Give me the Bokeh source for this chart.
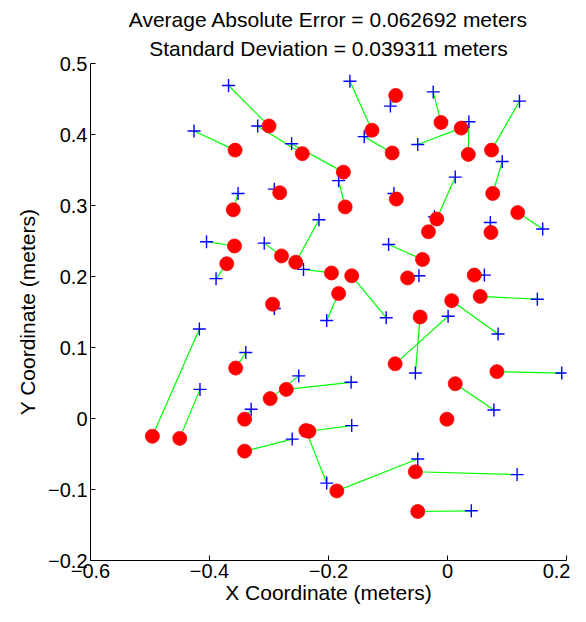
from bokeh.plotting import figure
from bokeh.models import ColumnDataSource, Range1d, Title, FixedTicker
from bokeh.embed import file_html
from bokeh.resources import INLINE

# True (measured) positions - blue plus markers
true_x = [-0.368, -0.426, -0.319, -0.262, -0.164, -0.096, -0.024, 0.036, -0.050, 0.121,
          0.092, 0.160, -0.140, -0.183, -0.090, 0.013, 0.072, -0.352, -0.291, -0.216,
          -0.405, -0.389, -0.308, -0.242, -0.203, -0.291, -0.417, -0.339, -0.250, -0.162,
          -0.416, -0.330, -0.203, -0.161, -0.261, -0.099, -0.103, -0.048, 0.062, 0.151,
          0.085, 0.001, -0.054, 0.192, 0.078, 0.000, 0.117, -0.050, 0.040, -0.022]
true_y = [0.469, 0.405, 0.412, 0.387, 0.475, 0.440, 0.460, 0.418, 0.386, 0.447,
          0.362, 0.267, 0.397, 0.335, 0.317, 0.340, 0.276, 0.317, 0.323, 0.280,
          0.249, 0.197, 0.247, 0.210, 0.138, 0.155, 0.126, 0.093, 0.060, 0.051,
          0.041, 0.013, -0.091, -0.010, -0.029, 0.245, 0.142, 0.201, 0.202, 0.168,
          0.119, 0.144, 0.064, 0.064, 0.012, 0.000, -0.079, -0.057, -0.130, 0.284]

# Estimated positions - red dots
est_x = [-0.300, -0.357, -0.244, -0.175, -0.127, -0.087, -0.011, 0.035, 0.023, 0.074,
         0.076, 0.118, -0.093, -0.172, -0.086, -0.018, 0.073, -0.360, -0.282, -0.255,
         -0.358, -0.371, -0.279, -0.195, -0.183, -0.294, -0.496, -0.356, -0.298, -0.271,
         -0.450, -0.341, -0.238, -0.233, -0.341, -0.042, -0.161, -0.067, 0.045, 0.055,
         0.007, -0.088, -0.046, 0.083, 0.013, -0.001, -0.054, -0.186, -0.050, -0.032]
est_y = [0.412, 0.378, 0.373, 0.347, 0.406, 0.455, 0.417, 0.372, 0.409, 0.378,
         0.317, 0.290, 0.374, 0.298, 0.309, 0.281, 0.262, 0.294, 0.318, 0.220,
         0.243, 0.218, 0.229, 0.205, 0.176, 0.161, -0.025, 0.071, 0.028, 0.041,
         -0.028, -0.001, -0.017, -0.018, -0.046, 0.224, 0.201, 0.198, 0.202, 0.172,
         0.166, 0.077, 0.143, 0.066, 0.049, -0.001, -0.075, -0.102, -0.131, 0.263]

x_ticks = [-0.6, -0.4, -0.2, 0, 0.2]
x_tick_labels = ["\u22120.6", "\u22120.4", "\u22120.2", "0", "0.2"]
y_ticks = [-0.2, -0.1, 0, 0.1, 0.2, 0.3, 0.4, 0.5]
y_tick_labels = ["\u22120.2", "\u22120.1", "0", "0.1", "0.2", "0.3", "0.4", "0.5"]

title_line1 = "Average Absolute Error = 0.062692 meters"
title_line2 = "Standard Deviation = 0.039311 meters"
x_label = "X Coordinate (meters)"
y_label = "Y Coordinate (meters)"

FONT = "Liberation Sans"

source = ColumnDataSource(data=dict(tx=true_x, ty=true_y, ex=est_x, ey=est_y))

p = figure(width=570, height=606, output_backend="svg", toolbar_location=None,
           x_range=Range1d(-0.6, 0.2), y_range=Range1d(-0.2, 0.5),
           min_border_left=90, min_border_right=4, min_border_top=63, min_border_bottom=40)

# upper title line (outermost)
p.title.text = title_line1
p.title.align = "center"
p.title.text_font = FONT
p.title.text_font_size = "21px"
p.title.text_font_style = "normal"
p.title.text_color = "black"
p.title.standoff = 0
# lower title line (closest to the plot)
p.add_layout(Title(text=title_line2, align="center", text_font=FONT, text_font_size="21px",
                   text_font_style="normal", text_color="black", standoff=8), "above")

p.segment(x0="tx", y0="ty", x1="ex", y1="ey", source=source, line_color="#00ff00", line_width=1.2)
p.scatter(x="tx", y="ty", source=source, marker="cross", size=13, line_color="#0000ff",
          line_width=1.4, fill_color=None)
p.scatter(x="ex", y="ey", source=source, marker="circle", size=14, fill_color="#ff0000",
          line_color="#ff0000", line_width=0.8)

p.outline_line_color = None
p.grid.grid_line_color = None
p.background_fill_color = "white"
p.border_fill_color = "white"

p.xaxis.ticker = FixedTicker(ticks=x_ticks)
p.xaxis.major_label_overrides = dict(zip(x_ticks, x_tick_labels))
p.yaxis.ticker = FixedTicker(ticks=y_ticks)
p.yaxis.major_label_overrides = dict(zip(y_ticks, y_tick_labels))

p.xaxis.axis_label = x_label
p.yaxis.axis_label = y_label
for ax in (p.xaxis, p.yaxis):
    ax.axis_label_text_font = FONT
    ax.axis_label_text_font_size = "21px"
    ax.axis_label_text_font_style = "normal"
    ax.axis_label_text_color = "black"
    ax.major_label_text_font = FONT
    ax.major_label_text_font_size = "20px"
    ax.major_label_text_color = "black"
    ax.axis_line_color = "black"
    ax.major_tick_line_color = "black"
    ax.major_tick_in = 5
    ax.major_tick_out = 0
    ax.minor_tick_line_color = None
p.xaxis.major_label_standoff = 3
p.yaxis.major_label_standoff = 3
p.xaxis.axis_label_standoff = 0
p.yaxis.axis_label_standoff = 6

open("out.html", "w").write(file_html(p, INLINE))
